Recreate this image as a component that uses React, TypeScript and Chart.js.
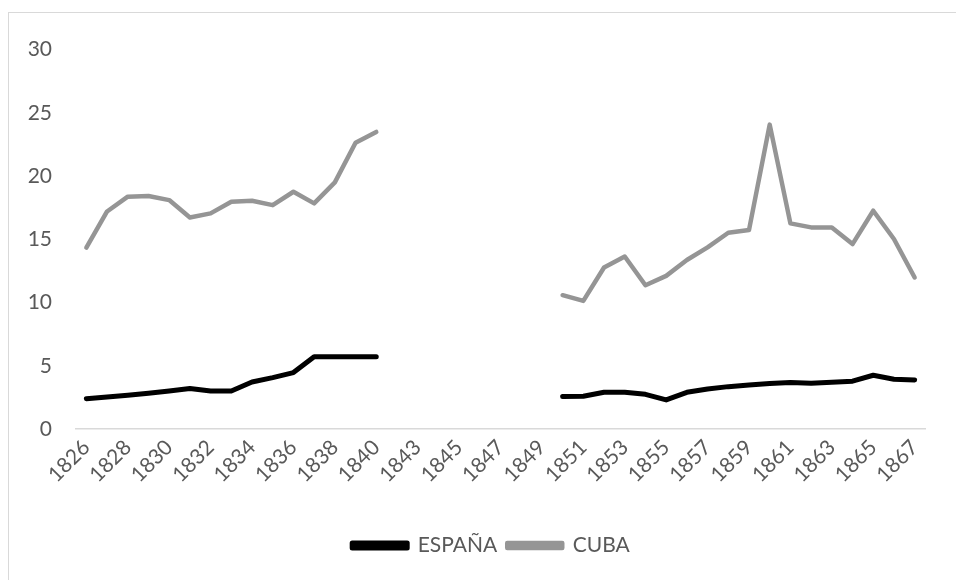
import React, { useEffect, useRef } from "react";
import { Chart, registerables } from "chart.js";

Chart.register(...registerables);

const years: string[] = [
  "1826", "1827", "1828", "1829", "1830", "1831", "1832", "1833", "1834", "1835",
  "1836", "1837", "1838", "1839", "1840", "1842", "1843", "1844", "1845", "1846",
  "1847", "1848", "1849", "1850", "1851", "1852", "1853", "1854", "1855", "1856",
  "1857", "1858", "1859", "1860", "1861", "1862", "1863", "1864", "1865", "1866",
  "1867",
];

const espana: (number | null)[] = [
  2.4, 2.53, 2.67, 2.83, 3.01, 3.2, 3.01, 3.01, 3.72, 4.06, 4.46, 5.72, 5.72, 5.72, 5.72,
  null, null, null, null, null, null, null, null,
  2.56, 2.59, 2.9, 2.9, 2.74, 2.3, 2.9, 3.17, 3.35, 3.48, 3.59, 3.67, 3.62, 3.7, 3.78,
  4.25, 3.94, 3.88,
];

const cuba: (number | null)[] = [
  14.35, 17.2, 18.37, 18.42, 18.1, 16.73, 17.05, 17.97, 18.05, 17.7, 18.76, 17.84, 19.5,
  22.64, 23.49,
  null, null, null, null, null, null, null, null,
  10.58, 10.13, 12.77, 13.64, 11.37, 12.11, 13.36, 14.36, 15.52, 15.73, 24.07, 16.26,
  15.94, 15.94, 14.62, 17.26, 15.02, 11.98,
];

const yTicks = { min: 0, max: 30, step: 5 };

const legendShift = {
  id: "legendShift",
  afterLayout(chart: any) {
    const lg = chart.legend;
    if (lg) {
      lg.left += 24;
      lg.right += 24;
    }
  },
};

export default function App() {
  const ref = useRef<HTMLCanvasElement | null>(null);

  useEffect(() => {
    if (!ref.current) return;
    const font = { family: "Lato, 'Open Sans', sans-serif", size: 21 };
    const chart = new Chart(ref.current, {
      type: "line",
      plugins: [legendShift],
      data: {
        labels: years,
        datasets: [
          {
            label: "ESPAÑA",
            data: espana,
            borderColor: "#000000",
            backgroundColor: "#000000",
            borderWidth: 5,
            pointRadius: 0,
            borderJoinStyle: "round",
            borderCapStyle: "round",
            spanGaps: false,
            tension: 0,
          },
          {
            label: "CUBA",
            data: cuba,
            borderColor: "#959595",
            backgroundColor: "#959595",
            borderWidth: 4.5,
            pointRadius: 0,
            borderJoinStyle: "round",
            borderCapStyle: "round",
            spanGaps: false,
            tension: 0,
          },
        ],
      },
      options: {
        animation: false,
        responsive: false,
        maintainAspectRatio: false,
        layout: { padding: { left: 0, right: 31, top: 36, bottom: 14 } },
        plugins: {
          tooltip: { enabled: false },
          legend: {
            position: "bottom",
            labels: {
              boxWidth: 55,
              boxHeight: 5,
              color: "#595959",
              font,
              padding: 10,
            },
          },
        },
        scales: {
          x: {
            offset: true,
            grid: { display: false, drawTicks: false },
            border: { display: true, color: "#d9d9d9", width: 1.5 },
            ticks: {
              autoSkip: false,
              maxRotation: 45,
              minRotation: 45,
              color: "#595959",
              font,
              padding: 6,
              callback: (_v: any, i: number) => (i % 2 === 0 ? years[i] : ""),
            },
            afterFit: (s: any) => {
              s.height = 96;
            },
          },
          y: {
            min: yTicks.min,
            max: yTicks.max,
            grid: { display: false, drawTicks: false },
            border: { display: false },
            ticks: {
              stepSize: yTicks.step,
              color: "#595959",
              font,
              padding: 24,
            },
            afterFit: (s: any) => {
              s.width = 67;
            },
          },
        },
      },
    });
    return () => chart.destroy();
  }, []);

  return (
    <div
      style={{
        position: "fixed",
        left: 8,
        top: 12,
        width: 948,
        height: 568,
        borderLeft: "1px solid #d9d9d9",
        borderTop: "1px solid #d9d9d9",
        background: "#ffffff",
      }}
    >
      <canvas ref={ref} width={947} height={567} style={{ display: "block" }} />
    </div>
  );
}
